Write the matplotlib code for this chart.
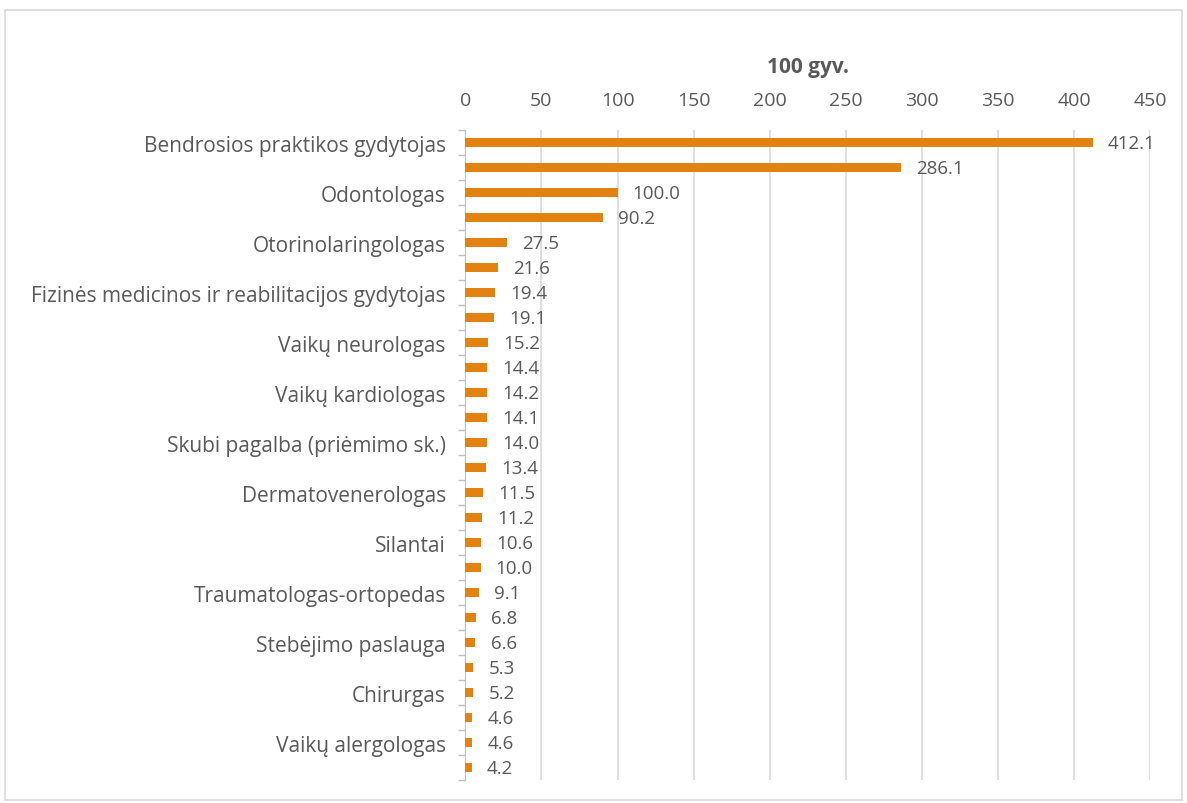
import numpy as np
import matplotlib
matplotlib.use('Agg')
import matplotlib.pyplot as plt
from matplotlib.patches import Rectangle

plt.rcParams['font.family'] = ['Open Sans', 'DejaVu Sans']

# only every other category name is shown in the original chart
categories = [
    'Bendrosios praktikos gydytojas', '', 'Odontologas', '',
    'Otorinolaringologas', '', 'Fizinės medicinos ir reabilitacijos gydytojas', '',
    'Vaikų neurologas', '', 'Vaikų kardiologas', '',
    'Skubi pagalba (priėmimo sk.)', '', 'Dermatovenerologas', '',
    'Silantai', '', 'Traumatologas-ortopedas', '',
    'Stebėjimo paslauga', '', 'Chirurgas', '',
    'Vaikų alergologas', '',
]
values = [412.1, 286.1, 100.0, 90.2, 27.5, 21.6, 19.4, 19.1, 15.2, 14.4,
          14.2, 14.1, 14.0, 13.4, 11.5, 11.2, 10.6, 10.0, 9.1, 6.8,
          6.6, 5.3, 5.2, 4.6, 4.6, 4.2]
x_ticks = [0, 50, 100, 150, 200, 250, 300, 350, 400, 450]

bar_color = '#E48211'
text_color = '#595959'
grid_color = '#D9D9D9'

fig = plt.figure(figsize=(11.87, 8.04), dpi=100)
fig.patches.append(Rectangle((0.004, 0.004), 0.992, 0.982, transform=fig.transFigure,
                             fill=False, edgecolor='#D9D9D9', linewidth=1.2))
ax = fig.add_axes([0.392, 0.028, 0.577, 0.809])

y = np.arange(len(values))
ax.barh(y, values, height=0.36, color=bar_color, zorder=3)
for yi, v in zip(y, values):
    ax.text(v + 10, yi, f'{v:.1f}', va='center', ha='left', fontsize=13.5,
            color=text_color, zorder=4)

ax.set_ylim(len(values) - 0.5, -0.5)
ax.set_xlim(0, 450)
ax.set_xticks(x_ticks)
ax.xaxis.tick_top()
ax.tick_params(axis='x', length=0, labelsize=14, labelcolor=text_color, pad=15)
ax.grid(axis='x', color=grid_color, linewidth=1.2, zorder=0)

ax.set_yticks(y)
ax.set_yticklabels(categories, fontsize=15, color=text_color)
ax.set_yticks(np.arange(len(values) + 1) - 0.5, minor=True)
ax.tick_params(axis='y', which='major', length=0, pad=14)
ax.tick_params(axis='y', which='minor', length=5, color='#BFBFBF', width=1)

for s in ['top', 'right', 'bottom']:
    ax.spines[s].set_visible(False)
ax.spines['left'].set_color('#BFBFBF')

ax.set_title('100 gyv.', fontsize=15, fontweight='bold', color=text_color, pad=42)

fig.savefig('out.png', dpi=100)
